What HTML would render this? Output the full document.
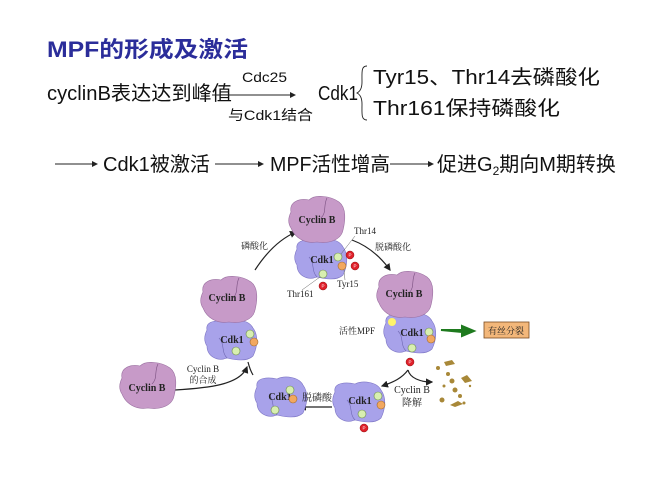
<!DOCTYPE html>
<html><head><meta charset="utf-8"><style>
html,body{margin:0;padding:0;background:#fff;}
svg{display:block;}
.s{font-family:"Liberation Sans","Noto Sans CJK SC",sans-serif;}
.r{font-family:"Liberation Serif","Noto Serif CJK SC",serif;}
</style></head><body>
<svg width="660" height="480" viewBox="0 0 660 480" xmlns="http://www.w3.org/2000/svg">
<defs>
<g id="cyc">
<path d="M-26,-8 C-28,-18 -18,-22 -8,-20 C-2,-26 14,-24 22,-18 C30,-12 28,2 26,10 C24,20 12,24 0,22 C-12,24 -22,18 -26,8 C-30,2 -28,-4 -26,-8Z" fill="#c79ac8" stroke="#9a6fa0" stroke-width="0.6"/>
<path d="M10,-22 C6,-14 10,-8 4,-2" fill="none" stroke="#7a5080" stroke-width="0.6"/>
</g>
<g id="cdk">
<path d="M-24,-10 C-26,-20 -12,-20 -4,-18 C4,-22 18,-20 22,-12 C28,-4 26,8 22,16 C16,22 4,20 -4,18 C-14,22 -24,16 -24,6 C-28,0 -26,-6 -24,-10Z" fill="#a8a2ea" stroke="#7c74c4" stroke-width="0.6"/>
<path d="M-12,-2 C-6,4 -10,12 -4,18" fill="none" stroke="#6d66b0" stroke-width="0.6"/>
</g>
<g id="g"><circle r="4" fill="#d8efb0" stroke="#6a8a50" stroke-width="0.6"/></g>
<g id="o"><circle r="4" fill="#f2a860" stroke="#a06a30" stroke-width="0.6"/></g>
<g id="p"><circle r="4" fill="#e0202a" stroke="#901010" stroke-width="0.5"/><text y="1.6" text-anchor="middle" font-size="4.5" fill="#fff" class="s">P</text></g>
<marker id="ah" markerWidth="6" markerHeight="6" refX="5" refY="3" orient="auto"><path d="M0,0 L6,3 L0,6Z" fill="#222"/></marker>
</defs>

<text x="47" y="57" class="s" font-size="22" font-weight="bold" fill="#2b2d9a" textLength="201" lengthAdjust="spacingAndGlyphs">MPF的形成及激活</text>
<text x="47" y="100" class="s" font-size="20" fill="#111" textLength="185" lengthAdjust="spacingAndGlyphs">cyclinB表达达到峰值</text>
<text x="242" y="82" class="s" font-size="14" fill="#111" textLength="45" lengthAdjust="spacingAndGlyphs">Cdc25</text>
<line x1="212" y1="95" x2="295" y2="95" stroke="#222" stroke-width="1" marker-end="url(#ah)"/>
<text x="228" y="120" class="s" font-size="14" fill="#111" textLength="85" lengthAdjust="spacingAndGlyphs">与Cdk1结合</text>
<text x="318" y="100" class="s" font-size="20" fill="#111" textLength="40" lengthAdjust="spacingAndGlyphs">Cdk1</text>
<path d="M367,66 C361,66 362,72 362,82 C362,90 359,92 357,93 C359,94 362,96 362,104 C362,114 361,120 367,120" fill="none" stroke="#222" stroke-width="0.9"/>
<text x="373" y="84" class="s" font-size="20" fill="#111" textLength="227" lengthAdjust="spacingAndGlyphs">Tyr15、Thr14去磷酸化</text>
<text x="373" y="115" class="s" font-size="20" fill="#111" textLength="187" lengthAdjust="spacingAndGlyphs">Thr161保持磷酸化</text>

<line x1="55" y1="164" x2="97" y2="164" stroke="#222" stroke-width="1" marker-end="url(#ah)"/>
<text x="103" y="171" class="s" font-size="20" fill="#111" textLength="107" lengthAdjust="spacingAndGlyphs">Cdk1被激活</text>
<line x1="215" y1="164" x2="263" y2="164" stroke="#222" stroke-width="1" marker-end="url(#ah)"/>
<text x="270" y="171" class="s" font-size="20" fill="#111" textLength="120" lengthAdjust="spacingAndGlyphs">MPF活性增高</text>
<line x1="390" y1="164" x2="433" y2="164" stroke="#222" stroke-width="1" marker-end="url(#ah)"/>
<text x="437" y="171" class="s" font-size="20" fill="#111">促进G<tspan font-size="12" dy="4">2</tspan><tspan dy="-4">期向M期转换</tspan></text>

<!-- cycle arrows -->
<path d="M255,270 C268,250 282,238 296,232" fill="none" stroke="#222" stroke-width="1.2" marker-end="url(#ah)"/>
<path d="M352,240 C368,246 380,256 390,270" fill="none" stroke="#222" stroke-width="1.2" marker-end="url(#ah)"/>
<path d="M408,370 C402,378 394,382 382,386" fill="none" stroke="#222" stroke-width="1.2" marker-end="url(#ah)"/>
<path d="M408,370 C410,378 420,382 432,382" fill="none" stroke="#222" stroke-width="1.2" marker-end="url(#ah)"/>
<path d="M332,407 C318,407 310,407 300,407" fill="none" stroke="#222" stroke-width="1.2" marker-end="url(#ah)"/>
<path d="M175,390 C208,388 240,385 247,367" fill="none" stroke="#222" stroke-width="1.2" marker-end="url(#ah)"/>
<path d="M253,375 C250,370 249,366 248,362" fill="none" stroke="#222" stroke-width="1.2"/>

<!-- top complex -->
<use href="#cdk" x="321" y="259"/>
<use href="#cyc" x="317" y="220"/>
<text x="322" y="263" class="r" font-size="10" font-weight="bold" fill="#222" text-anchor="middle">Cdk1</text>
<text x="317" y="223" class="r" font-size="10" font-weight="bold" fill="#222" text-anchor="middle">Cyclin B</text>
<use href="#g" x="338" y="257"/><use href="#o" x="342" y="266"/><use href="#g" x="323" y="274"/>
<use href="#p" x="350" y="255"/><use href="#p" x="355" y="266"/><use href="#p" x="323" y="286"/>
<line x1="341" y1="254" x2="355" y2="236" stroke="#666" stroke-width="0.5"/>
<line x1="344" y1="270" x2="345" y2="280" stroke="#666" stroke-width="0.5"/>
<line x1="320" y1="277" x2="302" y2="290" stroke="#666" stroke-width="0.5"/>
<text x="354" y="234" class="r" font-size="9" fill="#222">Thr14</text>
<text x="337" y="287" class="r" font-size="9" fill="#222">Tyr15</text>
<text x="287" y="297" class="r" font-size="9" fill="#222">Thr161</text>
<text x="241" y="249" class="r" font-size="9" fill="#222">磷酸化</text>
<text x="375" y="250" class="r" font-size="9" fill="#222">脱磷酸化</text>

<!-- left complex -->
<use href="#cdk" x="231" y="340"/>
<use href="#cyc" x="229" y="300"/>
<text x="232" y="343" class="r" font-size="10" font-weight="bold" fill="#222" text-anchor="middle">Cdk1</text>
<text x="227" y="301" class="r" font-size="10" font-weight="bold" fill="#222" text-anchor="middle">Cyclin B</text>
<use href="#g" x="250" y="334"/><use href="#o" x="254" y="342"/><use href="#g" x="236" y="351"/>

<!-- right complex -->
<use href="#cdk" x="410" y="333"/>
<use href="#cyc" x="405" y="295"/>
<circle cx="392" cy="322" r="4" fill="#fff36a"/>
<text x="412" y="336" class="r" font-size="10" font-weight="bold" fill="#222" text-anchor="middle">Cdk1</text>
<text x="404" y="297" class="r" font-size="10" font-weight="bold" fill="#222" text-anchor="middle">Cyclin B</text>
<use href="#g" x="429" y="332"/><use href="#o" x="431" y="339"/><use href="#g" x="412" y="348"/>
<use href="#p" x="410" y="362"/>
<text x="339" y="334" class="r" font-size="9" fill="#222">活性MPF</text>
<path d="M441,330 L462,330 L462,326 L474,331 L462,336 L462,332 Z" fill="#1e7a1e" stroke="#1e7a1e" stroke-width="2"/>
<rect x="484" y="322" width="45" height="16" fill="#f3b77a" stroke="#7a4a20" stroke-width="0.8"/>
<text x="506" y="334" class="r" font-size="9" fill="#222" text-anchor="middle">有丝分裂</text>

<!-- debris -->
<g fill="#a88838">
<path d="M444,362 l8,-2 l3,4 l-9,2z"/><circle cx="438" cy="368" r="2"/><circle cx="448" cy="374" r="2"/><circle cx="452" cy="381" r="2.5"/>
<path d="M461,378 l6,-3 l5,6 l-7,2z"/><circle cx="444" cy="386" r="1.5"/><circle cx="455" cy="390" r="2.5"/>
<circle cx="460" cy="396" r="2"/><circle cx="442" cy="400" r="2.5"/><path d="M450,405 l8,-4 l5,3 l-8,3z"/><circle cx="464" cy="403" r="1.5"/><circle cx="470" cy="386" r="1.2"/>
</g>

<!-- bottom right -->
<use href="#cdk" x="359" y="402"/>
<text x="360" y="404" class="r" font-size="10" font-weight="bold" fill="#222" text-anchor="middle">Cdk1</text>
<use href="#g" x="378" y="396"/><use href="#o" x="381" y="405"/><use href="#g" x="362" y="414"/><use href="#p" x="364" y="428"/>
<text x="412" y="393" class="r" font-size="10" fill="#222" text-anchor="middle">Cyclin B</text>
<text x="412" y="406" class="r" font-size="10" fill="#222" text-anchor="middle">降解</text>

<!-- bottom middle -->
<use href="#cdk" x="281" y="397"/>
<text x="280" y="400" class="r" font-size="10" font-weight="bold" fill="#222" text-anchor="middle">Cdk1</text>
<use href="#g" x="290" y="390"/><use href="#o" x="293" y="399"/><use href="#g" x="275" y="410"/>
<text x="302" y="401" class="r" font-size="10" fill="#222">脱磷酸</text>

<!-- far left -->
<use href="#cyc" x="148" y="386"/>
<text x="147" y="391" class="r" font-size="10" font-weight="bold" fill="#222" text-anchor="middle">Cyclin B</text>
<text x="203" y="372" class="r" font-size="9" fill="#222" text-anchor="middle">Cyclin B</text>
<text x="203" y="383" class="r" font-size="9" fill="#222" text-anchor="middle">的合成</text>
</svg>
</body></html>
